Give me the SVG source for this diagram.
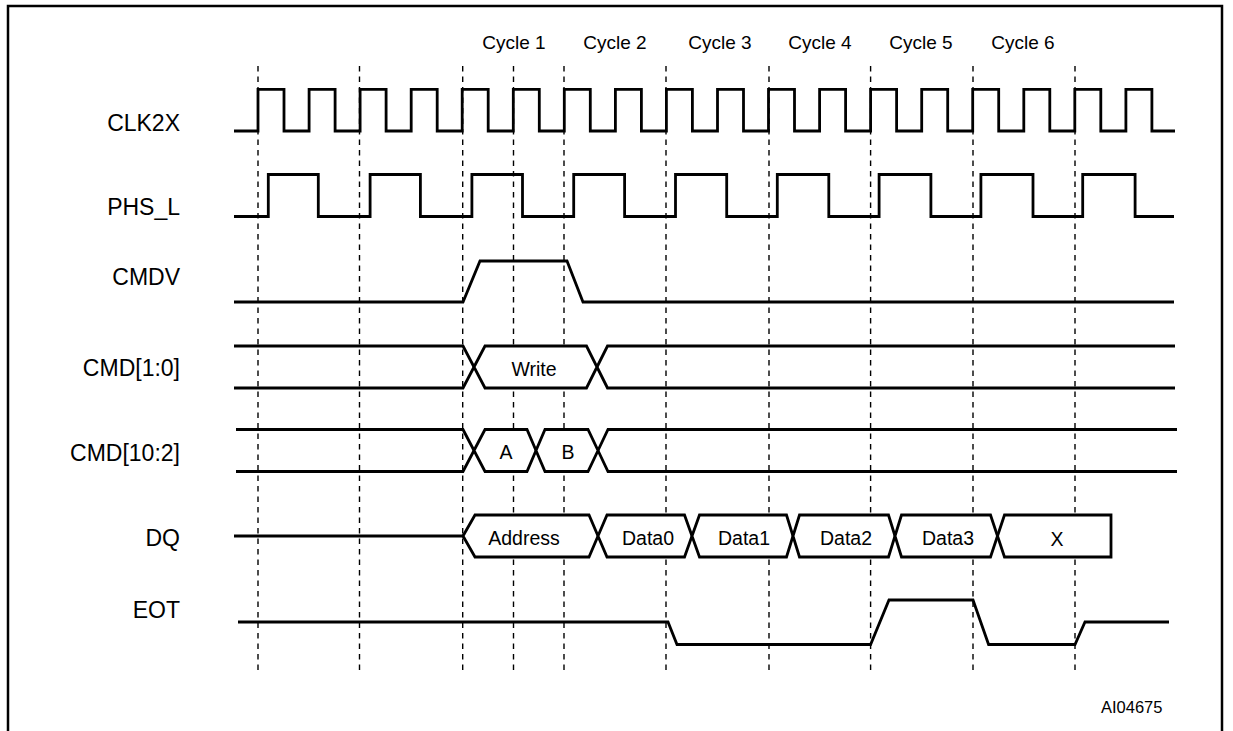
<svg xmlns="http://www.w3.org/2000/svg" width="1233" height="731" viewBox="0 0 1233 731">
<style>
.sig{fill:none;stroke:#000;stroke-width:2.8;stroke-linejoin:miter;stroke-linecap:butt}
.bus{fill:#fff;stroke:#000;stroke-width:2.8;stroke-linejoin:miter}
.grid line{stroke:#000;stroke-width:1.4;stroke-dasharray:5.5 5}
.lbl{font-family:"Liberation Sans",Arial,sans-serif;font-size:23px;text-anchor:end;fill:#000}
.in{font-family:"Liberation Sans",Arial,sans-serif;font-size:19.5px;text-anchor:middle;fill:#000}
.cyc{font-family:"Liberation Sans",Arial,sans-serif;font-size:19px;text-anchor:middle;fill:#000}
.ref{font-family:"Liberation Sans",Arial,sans-serif;font-size:16.5px;fill:#000}
</style>
<rect x="0" y="0" width="1233" height="731" fill="#fff"/>
<path id="frame" d="M8,731 V6 H1222 V731" fill="none" stroke="#000" stroke-width="2.5"/>
<g id="connectors" class="grid">
<line x1="258" y1="66" x2="258" y2="673"/>
<line x1="359.5" y1="66" x2="359.5" y2="673"/>
<line x1="462.7" y1="66" x2="462.7" y2="673"/>
<line x1="513.5" y1="66" x2="513.5" y2="673"/>
<line x1="564" y1="66" x2="564" y2="673"/>
<line x1="666" y1="66" x2="666" y2="673"/>
<line x1="769" y1="66" x2="769" y2="673"/>
<line x1="870.6" y1="66" x2="870.6" y2="673"/>
<line x1="973" y1="66" x2="973" y2="673"/>
<line x1="1075" y1="66" x2="1075" y2="673"/>
</g>
<g id="cycles">
<text class="cyc" x="514" y="49">Cycle 1</text>
<text class="cyc" x="615" y="49">Cycle 2</text>
<text class="cyc" x="720" y="49">Cycle 3</text>
<text class="cyc" x="820" y="49">Cycle 4</text>
<text class="cyc" x="921" y="49">Cycle 5</text>
<text class="cyc" x="1023" y="49">Cycle 6</text>
</g>
<g id="clk2x">
<text class="lbl" x="180" y="131">CLK2X</text>
<path class="sig" d="M234,131 H258 V89.3 H284 V131 H309.1 V89.3 H335.1 V131 H360.1 V89.3 H386.1 V131 H411.2 V89.3 H437.2 V131 H462.2 V89.3 H488.2 V131 H513.3 V89.3 H539.3 V131 H564.3 V89.3 H590.3 V131 H615.4 V89.3 H641.4 V131 H666.4 V89.3 H692.4 V131 H717.5 V89.3 H743.5 V131 H768.5 V89.3 H794.5 V131 H819.6 V89.3 H845.6 V131 H870.6 V89.3 H896.6 V131 H921.7 V89.3 H947.7 V131 H972.7 V89.3 H998.7 V131 H1023.8 V89.3 H1049.8 V131 H1074.8 V89.3 H1100.8 V131 H1125.9 V89.3 H1151.9 V131 H1175"/>
</g>
<g id="phs_l">
<text class="lbl" x="180" y="215">PHS_L</text>
<path class="sig" d="M234,216.5 H268.3 V174.5 H318.3 V216.5 H370.1 V174.5 H420.4 V216.5 H471.9 V174.5 H522.5 V216.5 H573.7 V174.5 H624.6 V216.5 H675.5 V174.5 H726.7 V216.5 H777.3 V174.5 H828.8 V216.5 H879.1 V174.5 H930.9 V216.5 H980.9 V174.5 H1033 V216.5 H1082.7 V174.5 H1135.1 V216.5 H1174"/>
</g>
<g id="cmdv">
<text class="lbl" x="180" y="285">CMDV</text>
<path class="sig" d="M234,302 H463 L480,261 H567 L583,302 H1174"/>
</g>
<g id="cmd1_0">
<text class="lbl" x="180" y="376">CMD[1:0]</text>
<path class="sig" d="M234,346 H463 L474,367 M234,388 H463 L474,367 M597,367 L607.5,346 H1175 M597,367 L607.5,388 H1175"/>
<polygon class="bus" points="474,367 485,346 586.5,346 597,367 586.5,388 485,388"/>
<text class="in" x="534" y="376">Write</text>
</g>
<g id="cmd10_2">
<text class="lbl" x="180" y="461">CMD[10:2]</text>
<path class="sig" d="M236,429.5 H463 L474,450.5 M236,471.5 H463 L474,450.5 M598,450.5 L608,429.5 H1177 M598,450.5 L608,471.5 H1177"/>
<polygon class="bus" points="474,450.5 485,429.5 527,429.5 536,450.5 527,471.5 485,471.5"/>
<polygon class="bus" points="536,450.5 545,429.5 588,429.5 598,450.5 588,471.5 545,471.5"/>
<text class="in" x="506" y="459">A</text>
<text class="in" x="568" y="459">B</text>
</g>
<g id="dq">
<text class="lbl" x="180" y="546">DQ</text>
<path class="sig" d="M234,536 H463"/>
<polygon class="bus" points="463,536 475,515 589,515 598,536 589,557 475,557"/>
<polygon class="bus" points="598,536 607,515 684.5,515 692,536 684.5,557 607,557"/>
<polygon class="bus" points="692,536 699.5,515 786.5,515 793,536 786.5,557 699.5,557"/>
<polygon class="bus" points="793,536 799.5,515 888.5,515 895,536 888.5,557 799.5,557"/>
<polygon class="bus" points="895,536 901.5,515 990.5,515 997.5,536 990.5,557 901.5,557"/>
<polygon class="bus" points="997.5,536 1004.5,515 1111,515 1111,557 1004.5,557"/>
<text class="in" x="524" y="545">Address</text>
<text class="in" x="648" y="545">Data0</text>
<text class="in" x="744" y="545">Data1</text>
<text class="in" x="846" y="545">Data2</text>
<text class="in" x="948" y="545">Data3</text>
<text class="in" x="1057" y="546">X</text>
</g>
<g id="eot">
<text class="lbl" x="180" y="618">EOT</text>
<path class="sig" d="M238,622 H668 L677,644.5 H870.6 L889,600 H973 L988.6,644.5 H1075 L1085,622 H1169"/>
</g>
<text class="ref" x="1101" y="713">AI04675</text>
</svg>
